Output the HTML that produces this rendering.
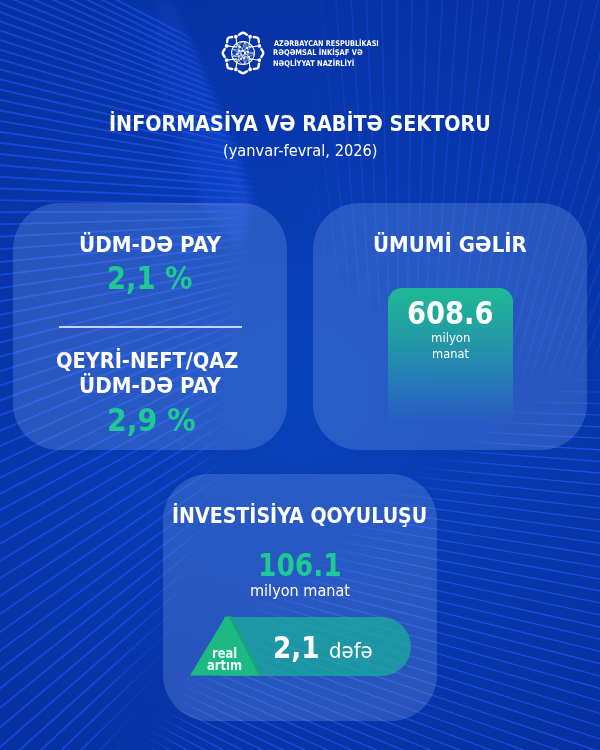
<!DOCTYPE html>
<html><head><meta charset="utf-8">
<style>
*{margin:0;padding:0;box-sizing:border-box}
html,body{width:600px;height:750px;overflow:hidden}
body{position:relative;background:#0a35a8;font-family:"DejaVu Sans","Liberation Sans",sans-serif;color:#fff}
#bg{position:absolute;left:0;top:0;width:600px;height:750px}
.card{position:absolute;width:274px;height:247px;border-radius:46px;background:rgba(135,175,240,0.26)}
.t{position:absolute;white-space:nowrap;line-height:60px;transform-origin:0 0}
</style></head>
<body>
<svg id="bg" width="600" height="750" viewBox="0 0 600 750">
<defs>
<radialGradient id="bgg" cx="300" cy="390" r="430" gradientUnits="userSpaceOnUse">
<stop offset="0" stop-color="#0843bc"/><stop offset="0.5" stop-color="#0839b0"/><stop offset="1" stop-color="#0731a2"/>
</radialGradient>
<filter id="bl" x="-20%" y="-20%" width="140%" height="140%"><feGaussianBlur stdDeviation="18"/></filter>
<filter id="sl"><feGaussianBlur stdDeviation="0.5"/></filter>
<filter id="bl2" x="-20%" y="-20%" width="140%" height="140%"><feGaussianBlur stdDeviation="4"/></filter>
<linearGradient id="foldg" x1="0" y1="0" x2="1" y2="0"><stop offset="0" stop-color="#2a62ff" stop-opacity="0"/><stop offset="0.75" stop-color="#2a62ff" stop-opacity="0.22"/><stop offset="1" stop-color="#2a62ff" stop-opacity="0.3"/></linearGradient>
<mask id="mL" maskUnits="userSpaceOnUse" x="0" y="0" width="600" height="750"><polygon filter="url(#bl2)" fill="#fff" points="-60,-60 160,-60 172,0 210,90 235,150 250,200 -60,200"/><polygon filter="url(#bl)" fill="#fff" points="-60,180 245,180 230,240 225,330 210,450 180,560 130,680 80,810 -60,810"/></mask>
<mask id="mR" maskUnits="userSpaceOnUse" x="0" y="0" width="600" height="750"><polygon filter="url(#bl)" fill="#fff" points="330,-60 660,-60 660,330 560,380 340,300 320,200 330,110"/></mask>
<mask id="mB" maskUnits="userSpaceOnUse" x="0" y="0" width="600" height="750"><polygon filter="url(#bl)" fill="#fff" points="660,360 660,810 120,810 190,700 260,620 340,560 430,480 520,420"/></mask>
</defs>
<rect width="600" height="750" fill="url(#bgg)"/>
<path d="M120 0L172 0L210 90L235 150L252 205L240 250L200 205L178 140L150 60Z" fill="url(#foldg)" filter="url(#bl2)"/>
<g mask="url(#mL)"><g stroke="#2256f5" stroke-opacity="0.6" stroke-width="1.9" fill="none" filter="url(#sl)">
<path d="M-5 -62.6L420 155.9M-5 -53.5L420 157.7M-5 -44.4L420 159.5M-5 -35.3L420 161.3M-5 -26.2L420 163.2M-5 -17.1L420 165.0M-5 -8.1L420 166.8M-5 1.0L420 168.6M-5 10.2L420 170.4M-5 19.4L420 172.3M-5 28.8L420 174.2M-5 38.4L420 176.1M-5 48.1L420 178.0M-5 57.9L420 180.0M-5 67.9L420 182.0M-5 78.0L420 184.0M-5 88.3L420 186.1M-5 98.8L420 188.2M-5 109.4L420 190.3M-5 120.1L420 192.4M-5 131.0L420 194.6M-5 142.1L420 196.8M-5 153.4L420 199.1M-5 164.8L420 201.4M-5 176.4L420 203.7M-5 188.1L420 206.0M-5 200.1L420 208.4M-5 212.2L420 210.9M-5 224.5L420 213.3M-5 236.9L420 215.8M-5 249.6L420 218.3M-5 262.5L420 220.9M-5 275.5L420 223.5M-5 288.8L420 226.2M-5 302.2L420 228.9M-5 315.9L420 231.6M-5 329.7L420 234.4M-5 343.8L420 237.2M-5 358.1L420 240.0M-5 372.6L420 242.9M-5 387.3L420 245.9M-5 402.2L420 248.9M-5 417.3L420 251.9M-5 432.7L420 255.0M-5 448.3L420 258.1M-5 464.1L420 263.7M-5 480.2L420 270.3M-5 496.4L420 277.0M-5 513.0L420 283.7M-5 529.7L420 290.6M-5 546.8L420 297.6M-5 564.0L420 304.6M-5 581.6L420 311.8M-5 599.4L420 319.1M-5 617.4L420 326.5M-5 635.8L420 334.0M-5 654.4L420 341.6M-5 673.3L420 349.3M-5 692.4L420 357.2M-5 711.9L420 365.1M-5 731.7L420 373.2M-5 751.7L420 381.4M-5 772.1L420 389.7M-5 792.7L420 398.2M-5 813.7L420 406.8M-5 835.0L420 415.5M-5 856.6L420 424.3M-5 878.5L420 433.3M-5 900.8L420 442.4M-5 923.3L420 451.6M-5 946.3L420 461.0M-5 969.5L420 470.5M-5 993.2L420 480.2"/>
</g></g>
<g mask="url(#mR)"><g stroke="#2158f2" stroke-opacity="0.32" stroke-width="1.6" fill="none" filter="url(#sl)">
<path d="M325.1 614.6L-12.1 -219.9M328.6 613.2L7.4 -227.5M332.2 611.9L27.0 -234.8M335.8 610.6L46.7 -241.7M339.4 609.4L66.6 -248.2M343.0 608.3L86.5 -254.4M346.7 607.2L106.6 -260.2M350.3 606.3L126.8 -265.5M354.0 605.4L147.1 -270.5M357.7 604.5L167.5 -275.1M361.4 603.8L188.0 -279.4M365.2 603.1L208.5 -283.2M368.9 602.4L229.1 -286.6M372.7 601.9L249.8 -289.7M376.5 601.4L270.5 -292.4M380.2 601.0L291.3 -294.6M384.0 600.6L312.1 -296.5M387.8 600.4L333.0 -298.0M391.6 600.2L353.8 -299.0M395.4 600.1L374.7 -299.7M399.2 600.0L395.6 -300.0M403.0 600.0L416.5 -299.9M406.8 600.1L437.4 -299.4M410.6 600.3L458.3 -298.5M414.4 600.5L479.2 -297.1M418.2 600.8L500.0 -295.4M422.0 601.2L520.8 -293.3M425.7 601.7L541.5 -290.9M429.5 602.2L562.2 -288.0M433.3 602.8L582.9 -284.7M437.0 603.5L603.5 -281.0M440.7 604.2L624.0 -277.0M444.4 605.0L644.4 -272.5M448.1 605.9L664.7 -267.7M451.8 606.8L684.9 -262.5M455.5 607.8L705.1 -256.8M459.1 608.9L725.1 -250.9M462.7 610.1L745.0 -244.5M466.3 611.3L764.8 -237.8M469.9 612.6L784.4 -230.6M473.4 614.0L804.0 -223.1M477.0 615.4L823.3 -215.3M480.5 616.9L842.5 -207.1M483.9 618.5L861.6 -198.5M487.4 620.1L880.5 -189.5M490.8 621.8L899.2 -180.2M494.1 623.5L917.7 -170.6M497.5 625.4L936.1 -160.5M500.8 627.2L954.2 -150.2M504.0 629.2L972.2 -139.5M507.3 631.2L989.9 -128.4M510.4 633.3L1007.4 -117.1M513.6 635.4L1024.8 -105.4M516.7 637.6L1041.8 -93.3M519.8 639.8L1058.7 -81.0M522.8 642.1L1075.3 -68.3M525.8 644.5L1091.7 -55.3M528.7 646.9L1107.8 -42.0M531.6 649.4L1123.7 -28.4M534.4 651.9L1139.3 -14.5M537.2 654.5L1154.6 -0.3M539.9 657.1L1169.7 14.2"/>
</g></g>
<g mask="url(#mB)"><g stroke="#2158f2" stroke-opacity="0.7" stroke-width="1.3" fill="none" filter="url(#sl)">
<path d="M-104.9 317.4L981.5 145.3M-104.3 321.6L983.9 160.9M-103.7 325.7L986.1 176.5M-103.1 329.9L988.2 192.1M-102.6 334.1L990.1 207.8M-102.2 338.2L991.8 223.4M-101.8 342.4L993.4 239.1M-101.4 346.6L994.8 254.8M-101.1 350.8L996.0 270.5M-100.8 355.0L997.1 286.2M-100.5 359.2L998.0 301.9M-100.3 363.4L998.7 317.6M-100.2 367.6L999.3 333.4M-100.1 371.8L999.7 349.1M-100.0 376.0L999.9 364.9M-100.0 380.2L1000.0 380.6M-100.0 384.4L999.9 396.4M-100.1 388.6L999.7 412.1M-100.2 392.8L999.2 427.9M-100.4 397.0L998.7 443.6M-100.6 401.2L997.9 459.3M-100.8 405.4L997.0 475.1M-101.1 409.5L995.9 490.8M-101.4 413.7L994.7 506.5M-101.8 417.9L993.2 522.2M-102.2 422.1L991.7 537.8M-102.7 426.3L989.9 553.5M-103.2 430.4L988.0 569.1M-103.7 434.6L986.0 584.7M-104.3 438.8L983.7 600.3M-105.0 442.9L981.3 615.9M-105.7 447.1L978.8 631.4M-106.4 451.2L976.1 647.0M-107.2 455.3L973.2 662.4M-108.0 459.4L970.1 677.9M-108.8 463.5L966.9 693.3M-109.7 467.7L963.5 708.7M-110.7 471.7L960.0 724.0M-111.6 475.8L956.3 739.4M-112.7 479.9L952.5 754.6M-113.7 484.0L948.5 769.9M-114.9 488.0L944.3 785.0M-116.0 492.0L939.9 800.2M-117.2 496.1L935.5 815.3M-118.5 500.1L930.8 830.3M-119.7 504.1L926.0 845.3M-121.1 508.1L921.0 860.3M-122.4 512.0L915.9 875.2M-123.8 516.0L910.6 890.0M-125.3 519.9L905.2 904.8M-126.8 523.9L899.6 919.5M-128.3 527.8L893.9 934.2M-129.9 531.7L888.0 948.8M-131.5 535.6L881.9 963.3M-133.1 539.4L875.7 977.8M-134.8 543.3L869.4 992.2M-136.6 547.1L862.9 1006.6M-138.3 550.9L856.2 1020.8M-140.2 554.7L849.4 1035.0M-142.0 558.4L842.5 1049.2M-143.9 562.2L835.4 1063.2M-145.8 565.9L828.1 1077.2M-147.8 569.6L820.7 1091.1M-149.8 573.3L813.2 1105.0M-151.9 577.0L805.5 1118.7M-154.0 580.6L797.7 1132.4M-156.1 584.3L789.7 1145.9M-158.2 587.9L781.6 1159.4M-160.4 591.4L773.3 1172.9M-162.7 595.0L764.9 1186.2M-165.0 598.5L756.4 1199.4M-167.3 602.0L747.7 1212.6M-169.6 605.5L738.9 1225.6M-172.0 609.0L730.0 1238.6M-174.4 612.4L720.9 1251.5M-176.9 615.8L711.7 1264.2M-179.4 619.2L702.3 1276.9M-181.9 622.5L692.8 1289.5M-184.5 625.9L683.2 1301.9M-187.1 629.2L673.5 1314.3M-189.7 632.4L663.6 1326.6M-192.4 635.7L653.6 1338.8"/>
</g></g>
</svg>

<svg style="position:absolute;left:219px;top:29px" width="48" height="48" viewBox="-24 -24 48 48">
<path d="M-3.95 -18.35L-1.87 -19.64Q0.00 -20.80 1.87 -19.64L3.95 -18.35 M10.77 -15.96L13.22 -15.66Q15.40 -15.40 15.66 -13.22L15.96 -10.77 M18.35 -3.95L19.64 -1.87Q20.80 0.00 19.64 1.87L18.35 3.95 M15.96 10.77L15.66 13.22Q15.40 15.40 13.22 15.66L10.77 15.96 M3.95 18.35L1.87 19.64Q0.00 20.80 -1.87 19.64L-3.95 18.35 M-10.77 15.96L-13.22 15.66Q-15.40 15.40 -15.66 13.22L-15.96 10.77 M-18.35 3.95L-19.64 1.87Q-20.80 0.00 -19.64 -1.87L-18.35 -3.95 M-15.96 -10.77L-15.66 -13.22Q-15.40 -15.40 -13.22 -15.66L-10.77 -15.96" fill="none" stroke="#fff" stroke-width="2.4" stroke-linecap="round" stroke-linejoin="round"/>
<circle cx="7.10" cy="-16.40" r="1.85" fill="#fff"/>
<circle cx="16.40" cy="-7.10" r="1.85" fill="#fff"/>
<circle cx="16.40" cy="7.10" r="1.85" fill="#fff"/>
<circle cx="7.10" cy="16.40" r="1.85" fill="#fff"/>
<circle cx="-7.10" cy="16.40" r="1.85" fill="#fff"/>
<circle cx="-16.40" cy="7.10" r="1.85" fill="#fff"/>
<circle cx="-16.40" cy="-7.10" r="1.85" fill="#fff"/>
<circle cx="-7.10" cy="-16.40" r="1.85" fill="#fff"/>
<circle r="11.4" fill="rgba(255,255,255,0.04)" stroke="#fff" stroke-width="1.1"/>
<path d="M7.10 -16.40L5.88 -6.21 M16.40 -7.10L6.21 -5.88 M16.40 7.10L6.21 5.88 M7.10 16.40L5.88 6.21 M-7.10 16.40L-5.88 6.21 M-16.40 7.10L-6.21 5.88 M-16.40 -7.10L-6.21 -5.88 M-7.10 -16.40L-5.88 -6.21" stroke="#fff" stroke-width="1.1" fill="none"/>
<path d="M1.98 -11.23L1.98 11.23 M8.73 -7.33L-5.70 9.87 M11.40 0.00L-10.71 3.90 M8.73 7.33L-10.71 -3.90 M1.98 11.23L-5.70 -9.87 M-5.70 9.87L1.98 -11.23 M-10.71 3.90L8.73 -7.33 M-10.71 -3.90L11.40 0.00 M-5.70 -9.87L8.73 7.33 M0 -11.4A5 11.4 0 0 0 0 11.4 M0 -11.4A5 11.4 0 0 1 0 11.4 M-11.4 0A11.4 4 0 0 0 11.4 0" stroke="#fff" stroke-width="0.65" fill="none" opacity="0.8"/>
<circle cx="-3" cy="-6" r="1.1" fill="#fff"/>
<circle cx="4" cy="-5" r="1.1" fill="#fff"/>
<circle cx="-6" cy="1" r="1.1" fill="#fff"/>
<circle cx="2" cy="0" r="1.1" fill="#fff"/>
<circle cx="6" cy="4" r="1.1" fill="#fff"/>
<circle cx="-2" cy="6" r="1.1" fill="#fff"/>
<circle cx="0" cy="-2" r="1.1" fill="#fff"/>
<circle cx="-4" cy="-2" r="1.1" fill="#fff"/>
<circle cx="5" cy="-1" r="1.1" fill="#fff"/>
<circle cx="1" cy="5" r="1.1" fill="#fff"/>
</svg>
<div class="card" style="left:13px;top:203px"></div>
<div class="card" style="left:313px;top:203px"></div>
<div class="card" style="left:163px;top:474px"></div>
<div style="position:absolute;left:58.5px;top:326px;width:183.5px;height:2px;background:#c6d3f5"></div>
<div style="position:absolute;left:388px;top:288px;width:124.6px;height:136px;border-radius:14px 14px 0 0;background:linear-gradient(180deg,#1fb995 0%,#2396a8 42%,rgba(38,124,183,0.85) 72%,rgba(40,110,190,0) 100%)"></div>
<div style="position:absolute;left:224px;top:616.5px;width:187px;height:59px;border-radius:0 30px 30px 0;background:rgba(25,185,150,0.65)"></div>
<svg style="position:absolute;left:188px;top:614px" width="80" height="64" viewBox="188 614 80 64">
<polygon points="190,675.5 225.5,616.5 231,616.5 261,675.5" fill="#1cb985"/>
<line x1="230" y1="616.5" x2="260.5" y2="675.5" stroke="#17a574" stroke-width="2.5"/>
</svg>
<div class="t" style="left:109.18px;top:94.03px;font-family:'DejaVu Sans',sans-serif;font-weight:bold;font-size:21px;color:#fff;transform:scaleX(0.9116)">İNFORMASİYA VƏ RABİTƏ SEKTORU</div>
<div class="t" style="left:222.76px;top:121.34px;font-family:'DejaVu Sans',sans-serif;font-weight:normal;font-size:15.5px;color:#fff;transform:scaleX(0.9432)">(yanvar-fevral, 2026)</div>
<div class="t" style="left:78.7px;top:214.93px;font-family:'DejaVu Sans',sans-serif;font-weight:bold;font-size:21px;color:#fff;transform:scaleX(0.948)">ÜDM-DƏ PAY</div>
<div class="t" style="left:106.99px;top:248.13px;font-family:'DejaVu Sans',sans-serif;font-weight:bold;font-size:32px;color:#1fc993;transform:scaleX(0.8557)">2,1 %</div>
<div class="t" style="left:56.18px;top:330.63px;font-family:'DejaVu Sans',sans-serif;font-weight:bold;font-size:21px;color:#fff;transform:scaleX(0.9224)">QEYRİ-NEFT/QAZ</div>
<div class="t" style="left:78.7px;top:356.48px;font-family:'DejaVu Sans',sans-serif;font-weight:bold;font-size:21px;color:#fff;transform:scaleX(0.948)">ÜDM-DƏ PAY</div>
<div class="t" style="left:107.42px;top:389.73px;font-family:'DejaVu Sans',sans-serif;font-weight:bold;font-size:32px;color:#1fc993;transform:scaleX(0.8876)">2,9 %</div>
<div class="t" style="left:373.32px;top:214.93px;font-family:'DejaVu Sans',sans-serif;font-weight:bold;font-size:21px;color:#fff;transform:scaleX(0.941)">ÜMUMİ GƏLİR</div>
<div class="t" style="left:406.99px;top:282.93px;font-family:'DejaVu Sans',sans-serif;font-weight:bold;font-size:32px;color:#fff;transform:scaleX(0.8551)">608.6</div>
<div class="t" style="left:430.86px;top:308.18px;font-family:'DejaVu Sans',sans-serif;font-weight:normal;font-size:12.5px;color:#fff;transform:scaleX(0.9375)">milyon</div>
<div class="t" style="left:431.88px;top:323.88px;font-family:'DejaVu Sans',sans-serif;font-weight:normal;font-size:12.5px;color:#fff;transform:scaleX(0.9154)">manat</div>
<div class="t" style="left:172.39px;top:485.53px;font-family:'DejaVu Sans',sans-serif;font-weight:bold;font-size:21px;color:#fff;transform:scaleX(0.905)">İNVESTİSİYA QOYULUŞU</div>
<div class="t" style="left:257.52px;top:534.53px;font-family:'DejaVu Sans',sans-serif;font-weight:bold;font-size:32px;color:#1fc993;transform:scaleX(0.8271)">106.1</div>
<div class="t" style="left:250.02px;top:560.59px;font-family:'DejaVu Sans',sans-serif;font-weight:normal;font-size:16.5px;color:#fff;transform:scaleX(0.877)">milyon manat</div>
<div class="t" style="left:211.65px;top:623.03px;font-family:'DejaVu Sans',sans-serif;font-weight:bold;font-size:13.5px;color:#ecfff6;transform:scaleX(0.8482)">real</div>
<div class="t" style="left:207.1px;top:635.33px;font-family:'DejaVu Sans',sans-serif;font-weight:bold;font-size:13.5px;color:#ecfff6;transform:scaleX(0.8575)">artım</div>
<div class="t" style="left:273.24px;top:617.52px;font-family:'DejaVu Sans',sans-serif;font-weight:bold;font-size:30px;color:#fff;transform:scaleX(0.8776)">2,1</div>
<div class="t" style="left:328.64px;top:620.81px;font-family:'DejaVu Sans',sans-serif;font-weight:normal;font-size:20.5px;color:#fff;transform:scaleX(0.9628)">dəfə</div>
<div class="t" style="left:273.5px;top:13.5px;font-family:'DejaVu Sans',sans-serif;font-weight:bold;font-size:7.8px;color:#fff;transform:scaleX(0.836)">AZƏRBAYCAN RESPUBLİKASI</div>
<div class="t" style="left:272.64px;top:23.4px;font-family:'DejaVu Sans',sans-serif;font-weight:bold;font-size:7.8px;color:#fff;transform:scaleX(0.8647)">RƏQƏMSAL İNKİŞAF VƏ</div>
<div class="t" style="left:272.65px;top:33.5px;font-family:'DejaVu Sans',sans-serif;font-weight:bold;font-size:7.8px;color:#fff;transform:scaleX(0.8543)">NƏQLİYYAT NAZİRLİYİ</div>
</body></html>
